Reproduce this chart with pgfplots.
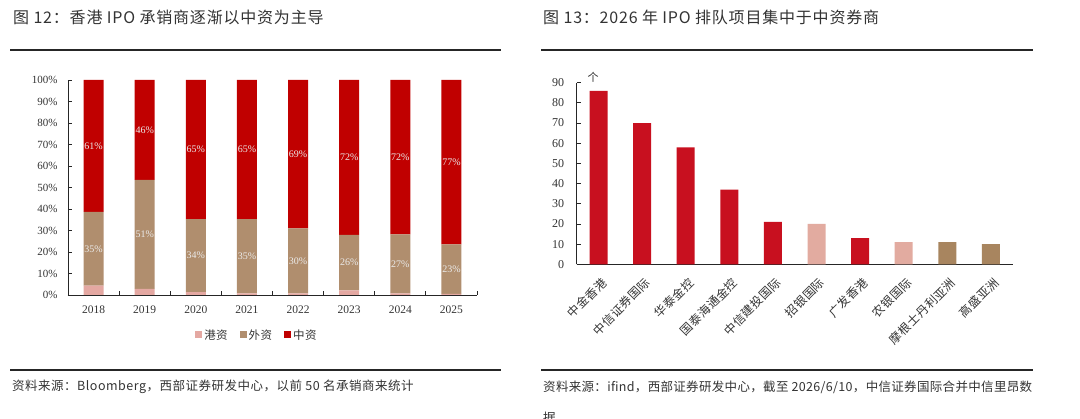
\documentclass[border=0pt]{standalone}
\usepackage{fontspec}
\setmainfont{Liberation Serif}
\newfontfamily\cjk{Noto Sans CJK SC}
\newfontfamily\cjkt[LetterSpace=5]{Noto Sans CJK SC}
\newfontfamily\cjks[LetterSpace=4]{Noto Sans CJK SC}
\newfontfamily\cjkr[LetterSpace=2.6]{Noto Sans CJK SC}
\usepackage{pgfplots}
\pgfplotsset{compat=1.18}
\usepackage{pgfplotstable}
\pgfplotsset{/pgf/number format/assume math mode=true}

\definecolor{cnred}{HTML}{C00000}
\definecolor{fobrown}{HTML}{B08E6E}
\definecolor{hkpink}{HTML}{E4A8A2}
\definecolor{rred}{HTML}{C8101F}
\definecolor{rpink}{HTML}{E2ABA0}
\definecolor{rbrown}{HTML}{A8855F}
\definecolor{txt}{HTML}{333333}

\pgfplotstableread{
x hk fo cn fol cnl
0 4.3 34.4 61.3 35 61
1 2.8 50.7 46.5 51 46
2 1.3 34.0 64.7 34 65
3 0.7 34.6 64.7 35 65
4 0.8 30.2 69.0 30 69
5 2.2 25.8 72.0 26 72
6 0.8 27.4 71.8 27 72
7 0.5 23.1 76.4 23 77
}\leftdata

\begin{document}
\begin{tikzpicture}
\path[use as bounding box] (0pt,0pt) rectangle (1080pt,419pt);

% titles and rules
\node[anchor=west,text=txt,font=\cjkt\fontsize{16}{19}\selectfont,inner sep=0pt] at (13pt,402pt) {图 12：香港 IPO 承销商逐渐以中资为主导};
\node[anchor=west,text=txt,font=\cjkt\fontsize{16}{19}\selectfont,inner sep=0pt] at (543pt,402pt) {图 13：2026 年 IPO 排队项目集中于中资券商};
\draw[line width=1.6pt,black!85] (10pt,369pt) -- (501pt,369pt);
\draw[line width=1.6pt,black!85] (541pt,369pt) -- (1033pt,369pt);
\draw[line width=1.6pt,black!85] (10pt,49pt) -- (501pt,49pt);
\draw[line width=1.6pt,black!85] (541pt,49pt) -- (1033pt,49pt);
\node[anchor=west,text=txt,font=\cjks\fontsize{12.5}{15}\selectfont,inner sep=0pt] at (12pt,32pt) {资料来源：Bloomberg，西部证券研发中心，以前 50 名承销商来统计};
\node[anchor=west,text=txt,font=\cjkr\fontsize{12.5}{15}\selectfont,inner sep=0pt] at (543pt,32pt) {资料来源：ifind，西部证券研发中心，截至 2026/6/10，中信证券国际合并中信里昂数};
\node[anchor=west,text=txt,font=\cjkr\fontsize{12.5}{15}\selectfont,inner sep=0pt] at (543pt,1pt) {据};

% left chart
\begin{axis}[at={(68pt,124pt)}, anchor=south west, scale only axis,
  width=409pt, height=215pt,
  ybar stacked, bar width=20pt,
  xmin=-0.5, xmax=7.5, ymin=0, ymax=100,
  axis lines*=left, axis line style={black!85, line width=0.9pt},
  tick align=inside, major tick length=4pt, minor tick length=4pt,
  tick style={black!85, line width=0.8pt},
  xtick={0,...,7}, xticklabels={2018,2019,2020,2021,2022,2023,2024,2025},
  major x tick style={draw=none},
  minor xtick={0.5,1.5,...,7.5},
  ytick={0,10,...,100},
  yticklabels={0\%,10\%,20\%,30\%,40\%,50\%,60\%,70\%,80\%,90\%,100\%},
  x tick label style={font=\fontsize{11.5}{12}\selectfont, yshift=-7pt, text=txt},
  y tick label style={font=\fontsize{11}{12}\selectfont, xshift=-7pt, text=txt},
  legend style={at={(0.462,-0.186)}, anchor=center, draw=none, fill=none,
    legend columns=3, font=\cjks\fontsize{11.5}{13}\selectfont, text=txt,
    /tikz/every even column/.append style={column sep=10pt},
    /tikz/every odd column/.append style={column sep=0pt}},
  legend image code/.code={\fill[#1] (0pt,-3.5pt) rectangle (7pt,3.5pt);},
]
\addplot[fill=hkpink, draw=none] table[x=x,y=hk] \leftdata;
\addlegendentry{港资}
\addplot[fill=fobrown, draw=none] table[x=x,y=fo] \leftdata;
\addlegendentry{外资}
\addplot[fill=cnred, draw=none] table[x=x,y=cn] \leftdata;
\addlegendentry{中资}
\end{axis}

% left chart labels (overlay, same geometry)
\begin{axis}[at={(68pt,124pt)}, anchor=south west, scale only axis,
  width=409pt, height=215pt,
  xmin=-0.5, xmax=7.5, ymin=0, ymax=100, hide axis]
\addplot[draw=none, mark=none, point meta=\thisrow{fol},
  nodes near coords={\pgfmathprintnumber{\pgfplotspointmeta}\%},
  every node near coord/.style={anchor=center, text=white!92!black, font=\fontsize{10}{10}\selectfont}]
  table[x=x, y expr=\thisrow{hk}+0.5*\thisrow{fo}] \leftdata;
\addplot[draw=none, mark=none, point meta=\thisrow{cnl},
  nodes near coords={\pgfmathprintnumber{\pgfplotspointmeta}\%},
  every node near coord/.style={anchor=center, text=white!92!black, font=\fontsize{10}{10}\selectfont}]
  table[x=x, y expr=\thisrow{hk}+\thisrow{fo}+0.5*\thisrow{cn}] \leftdata;
\end{axis}

% right chart
\begin{axis}[at={(576.7pt,154.7pt)}, anchor=south west, scale only axis,
  width=436pt, height=181.6pt,
  ybar, bar width=18pt, bar shift=0pt,
  xmin=-0.5, xmax=9.5, ymin=0, ymax=90,
  axis lines*=left, axis line style={black!85, line width=0.9pt},
  tick align=inside, major tick length=4pt,
  tick style={black!85, line width=0.8pt},
  xtick={0,...,9},
  xticklabels={中金香港,中信证券国际,华泰金控,国泰海通金控,中信建投国际,招银国际,广发香港,农银国际,摩根士丹利亚洲,高盛亚洲},
  major x tick style={draw=none},
  ytick={0,10,...,90},
  x tick label style={font=\cjks\fontsize{12}{13}\selectfont, rotate=45, anchor=north east, text=txt, yshift=-6.4pt, xshift=-3.8pt},
  y tick label style={font=\fontsize{12}{13}\selectfont, xshift=-9pt, text=txt},
]
\addplot[fill=rred, draw=none] coordinates {(0,86) (1,70) (2,58) (3,37) (4,21) (6,13)};
\addplot[fill=rpink, draw=none] coordinates {(5,20) (7,11)};
\addplot[fill=rbrown, draw=none] coordinates {(8,11) (9,10)};
\end{axis}
\node[text=txt,font=\cjk\fontsize{11}{12}\selectfont,inner sep=0pt] at (593pt,342pt) {个};
\end{tikzpicture}
\end{document}
